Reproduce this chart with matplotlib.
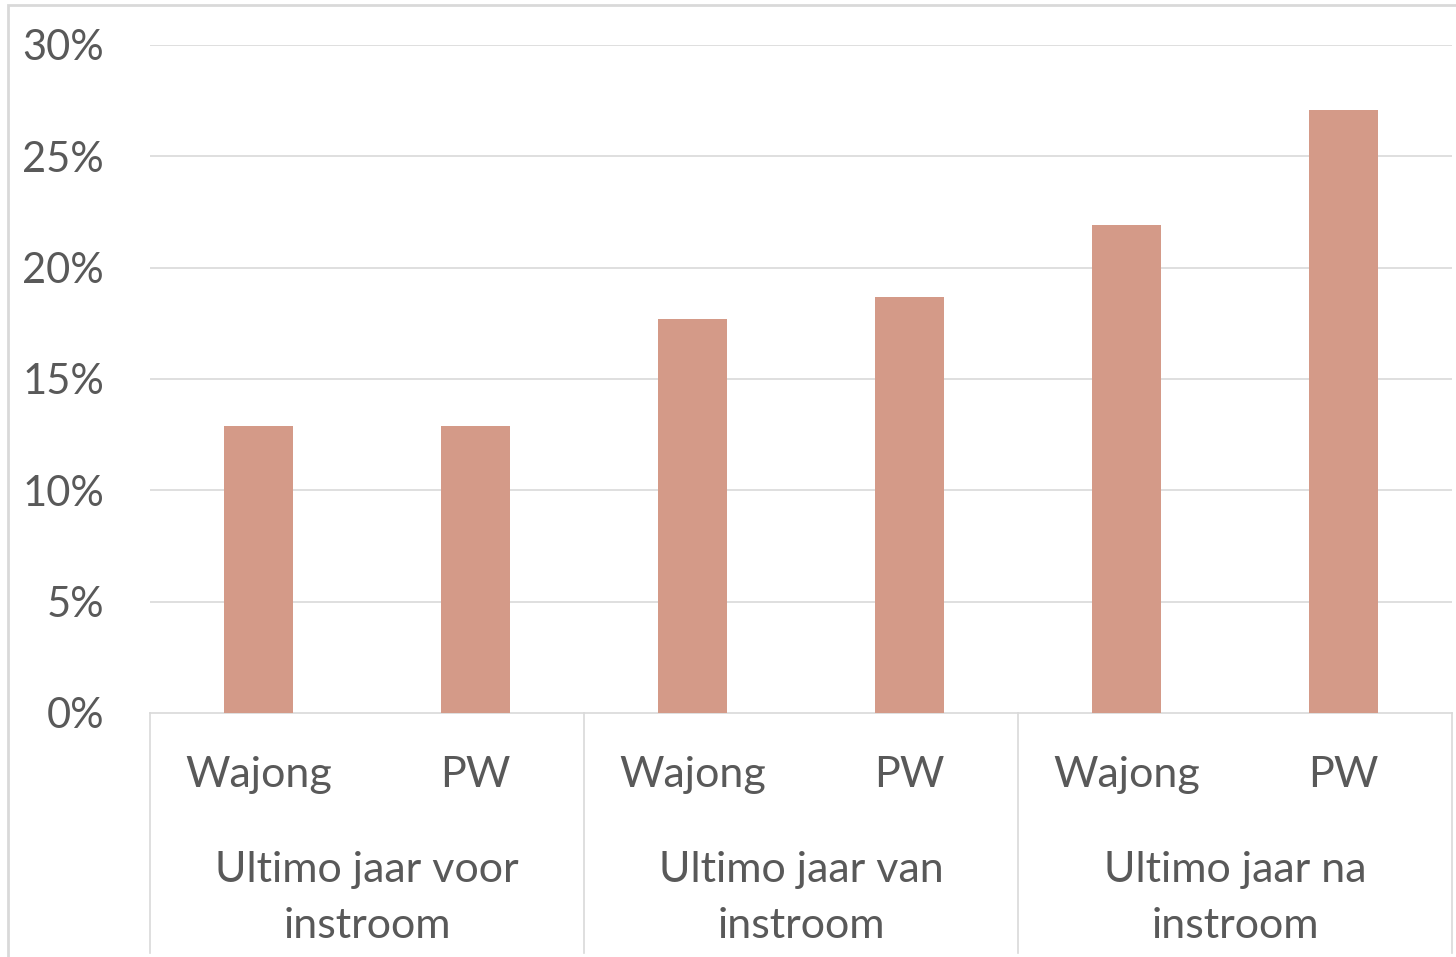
import matplotlib.pyplot as plt
from matplotlib.patches import Rectangle

# data
groups = ["Ultimo jaar voor\ninstroom", "Ultimo jaar van\ninstroom", "Ultimo jaar na\ninstroom"]
sub_labels = ["Wajong", "PW"]
values = [12.9, 12.9, 17.7, 18.7, 21.9, 27.1]
yticks = [0, 5, 10, 15, 20, 25, 30]

bar_color = "#D49A88"
grid_color = "#D9D9D9"
text_color = "#595959"
plt.rcParams['font.family'] = ['Lato', 'DejaVu Sans']

fig = plt.figure(figsize=(14.56, 9.57), dpi=100)
W, H = 1456, 957
ax = fig.add_axes([150 / W, (H - 713) / H, (1452 - 150) / W, (713 - 45) / H])

xs = [i + 0.5 for i in range(len(values))]
ax.bar(xs, values, width=0.314, color=bar_color, zorder=3)

ax.set_xlim(0, 6)
ax.set_ylim(0, 30)
ax.set_yticks(yticks)
ax.set_yticklabels(["{}%".format(t) for t in yticks])
ax.tick_params(axis='y', length=0, pad=33, labelsize=30, labelcolor=text_color)
ax.set_xticks([])
for t in yticks[1:]:
    ax.axhline(t, color=grid_color, lw=1.2, zorder=1)
for s in ["top", "right", "left"]:
    ax.spines[s].set_visible(False)
ax.spines["bottom"].set_color(grid_color)
ax.spines["bottom"].set_linewidth(1.2)

# category labels
trans = ax.get_xaxis_transform()
for i, x in enumerate(xs):
    ax.text(x, -0.093, sub_labels[i % 2], transform=trans, ha='center', va='center',
            fontsize=31, color=text_color)
for g, name in enumerate(groups):
    ax.text(2 * g + 1, -0.277, name, transform=trans, ha='center', va='center',
            fontsize=31, color=text_color, linespacing=1.58)
for x in [0, 2, 4, 6]:
    ax.plot([x, x], [0, -0.36], transform=trans, color=grid_color, lw=1.2, clip_on=False)

# outer chart frame
fig.patches.append(Rectangle((8 / W, -0.1), 1.2, (H - 5) / H + 0.1, transform=fig.transFigure,
                             fill=False, edgecolor=grid_color, lw=2))

fig.savefig("out.png", dpi=100)
